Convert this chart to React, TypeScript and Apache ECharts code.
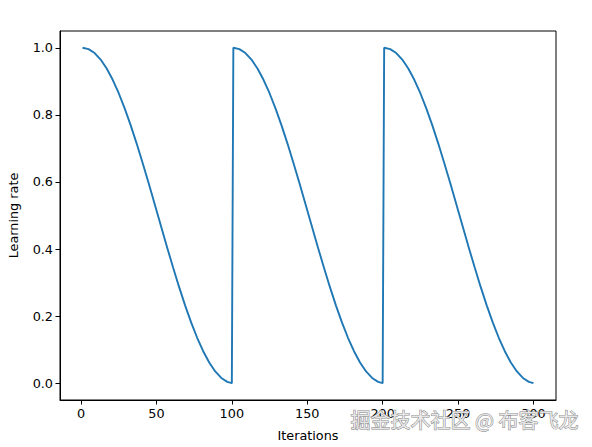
import React, { useEffect, useRef } from "react";
import * as echarts from "echarts";

// One cosine-annealing cycle: offset within cycle -> learning rate
const cycleOffsets = [0, 4, 8, 12, 16, 20, 24, 28, 32, 36, 40, 44, 48, 52, 56, 60, 64, 68, 72, 76, 80, 84, 88, 92, 96, 99];
const cycleValues = [1.0, 0.9961, 0.9843, 0.9649, 0.9382, 0.9045, 0.8645, 0.8187, 0.7679, 0.7129, 0.6545, 0.5937, 0.5314, 0.4686, 0.4063, 0.3455, 0.2871, 0.2321, 0.1813, 0.1355, 0.0955, 0.0618, 0.0351, 0.0157, 0.0039, 0.0002];
const cycleStarts = [1, 101, 201];

const xTicks = [0, 50, 100, 150, 200, 250, 300];
const yTicks = [0.0, 0.2, 0.4, 0.6, 0.8, 1.0];

const FONT = "DejaVu Sans";

export default function App() {
  const ref = useRef<HTMLDivElement>(null);
  useEffect(() => {
    if (!ref.current) return;
    const chart = echarts.init(ref.current, null, { renderer: "svg" });
    const data: number[][] = [];
    cycleStarts.forEach((s) => {
      cycleOffsets.forEach((o, i) => data.push([s + o, cycleValues[i]]));
    });
    chart.setOption({
      animation: false,
      backgroundColor: "#ffffff",
      grid: {
        left: 60,
        top: 31,
        right: 36,
        bottom: 47,
        outerBoundsMode: "none",
        containLabel: false,
        show: true,
        borderColor: "#000",
        borderWidth: 1,
        backgroundColor: "transparent",
      },
      xAxis: {
        type: "value",
        min: -13.95,
        max: 314.95,
        name: "Iterations",
        nameLocation: "middle",
        nameGap: 29,
        nameTextStyle: { fontFamily: FONT, fontSize: 12.8, color: "#000" },
        axisLine: { show: true, onZero: false, lineStyle: { color: "#000", width: 1 } },
        axisTick: { show: true, length: 4.5, lineStyle: { color: "#000" }, customValues: xTicks },
        axisLabel: {
          customValues: xTicks,
          fontFamily: FONT,
          fontSize: 12.8,
          color: "#000",
          margin: 7,
          formatter: (v: number) => String(Math.round(v)),
        },
        splitLine: { show: false },
      },
      yAxis: {
        type: "value",
        min: -0.05,
        max: 1.05,
        name: "Learning rate",
        nameLocation: "middle",
        nameGap: 40,
        nameRotate: 90,
        nameTextStyle: { fontFamily: FONT, fontSize: 12.8, color: "#000" },
        axisLine: { show: true, onZero: false, lineStyle: { color: "#000", width: 1 } },
        axisTick: { show: true, length: 4.5, lineStyle: { color: "#000" }, customValues: yTicks },
        axisLabel: {
          customValues: yTicks,
          fontFamily: FONT,
          fontSize: 12.8,
          color: "#000",
          margin: 7,
          formatter: (v: number) => v.toFixed(1),
        },
        splitLine: { show: false },
      },
      series: [
        {
          type: "line",
          data,
          showSymbol: false,
          symbol: "none",
          lineStyle: { color: "#1f77b4", width: 1.9 },
          itemStyle: { color: "#1f77b4" },
        },
      ],
      graphic: [
        {
          type: "text",
          left: 350,
          top: 409,
          z: 100,
          style: {
            text: "掘金技术社区 @ 布客飞龙",
            fontFamily: "Noto Sans CJK SC",
            fontSize: 20,
            fill: "rgba(235,235,235,0.95)",
            stroke: "rgba(120,120,120,0.9)",
            lineWidth: 1,
          },
        },
      ],
    });
    return () => chart.dispose();
  }, []);
  return (
    <div
      ref={ref}
      style={{ position: "fixed", left: 0, top: 0, width: 592, height: 447 }}
    />
  );
}
